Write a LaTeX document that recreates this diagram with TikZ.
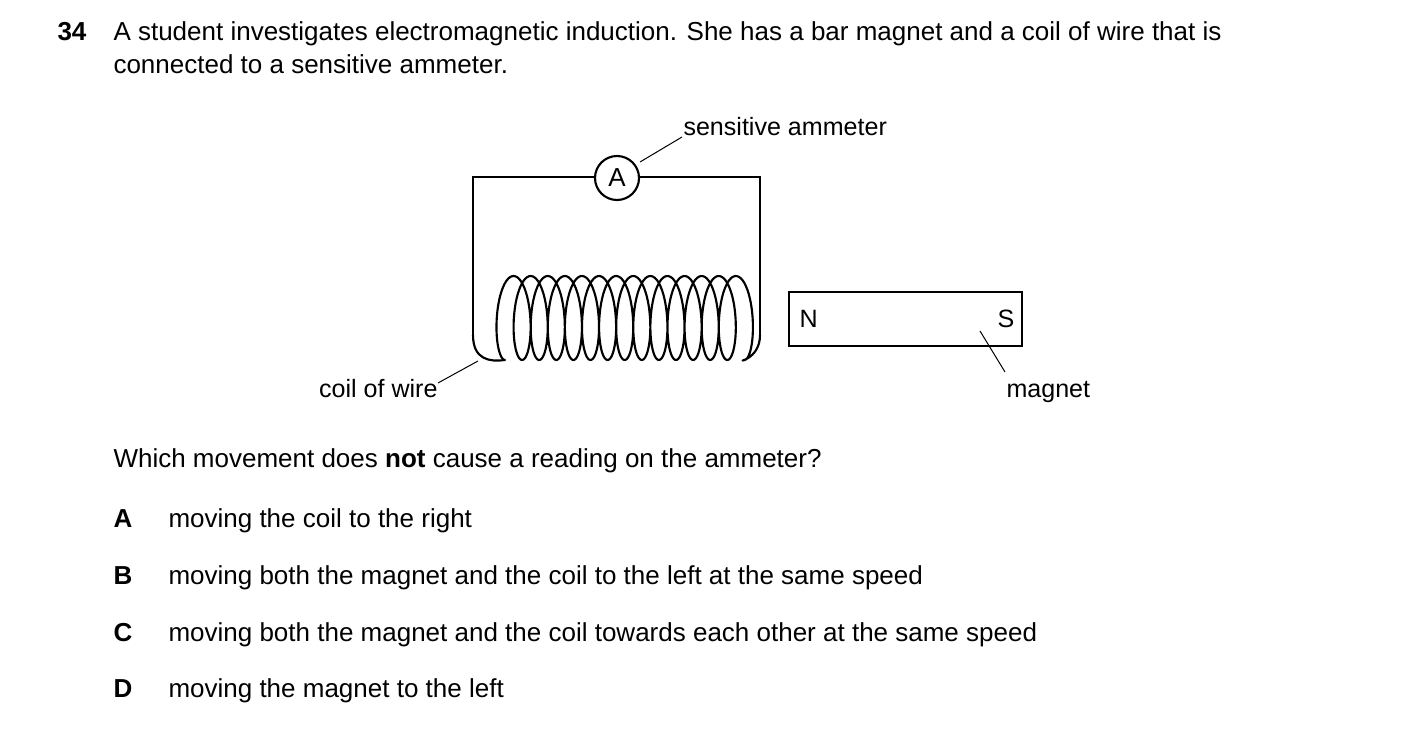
\documentclass[tikz,border=0pt]{standalone}
\usepackage{fontspec}
\setmainfont{Liberation Sans}
\tikzset{every picture/.style={line width=0.75pt}}
\tikzset{txt/.style={anchor=base west,inner sep=0pt,font=\fontsize{19.5}{23}\selectfont},
  lbl/.style={txt,font=\fontsize{18.8}{22}\selectfont},
  wire/.style={line width=1.6pt}}
\begin{document}
\begin{tikzpicture}[x=0.75pt,y=0.75pt,yscale=-1,xscale=1]
\useasboundingbox (0,0) rectangle (1403,752);

% Question text
\node[txt] (num) at (57,41) {\textbf{34}};
\node[txt] (q1) at (113,41) {A student investigates electromagnetic induction. She has a bar magnet and a coil of wire that is};
\node[txt] (q2) at (113,74) {connected to a sensitive ammeter.};

%Circuit wire
\coordinate (lb) at (473,335);
\coordinate (rb) at (760,335);
\draw [wire] (lb) -- (473,177) -- (595,177);
\draw [wire] (639,177) -- (760,177) -- (rb);
\draw [wire] (617,178) circle (22);
\node[inner sep=0pt,font=\fontsize{19.5}{23}\selectfont] (amm) at (617,178) {A};

%Coil
\draw [wire,line join=round] (lb) .. controls (473,360) and (490,362) .. (505,360)
  -- plot[domain=0:14,samples=700,smooth] ({505+17.1*\x-12.5*sin(360*\x)},{318+42*cos(360*\x)})
  .. controls (735,362) and (760,360) .. (rb);

%Magnet
\draw [wire] (789,292) rectangle (1022,346);
\node[lbl] (n) at (799,328) {N};
\node[lbl] (s) at (997,328) {S};

%Labels with leaders
\node[lbl] (sa) at (683,136) {sensitive ammeter};
\draw (640,162) -- (682,137);
\node[lbl,anchor=base east] (cw) at (438,397) {coil of wire};
\draw (438,383) -- (478,361);
\node[lbl] (mg) at (1006,397) {magnet};
\draw (980,331) -- (1005,372);

% Question
\node[txt] (qq) at (113,467) {Which movement does \textbf{not} cause a reading on the ammeter?};
\foreach \l/\t/\y in {A/moving the coil to the right/527,
  B/moving both the magnet and the coil to the left at the same speed/584,
  C/moving both the magnet and the coil towards each other at the same speed/641,
  D/moving the magnet to the left/697}{
  \node[txt] (opt\l) at (113,\y) {\textbf{\l}};
  \node[txt] (txt\l) at (168,\y) {\t};
}
\end{tikzpicture}
\end{document}
